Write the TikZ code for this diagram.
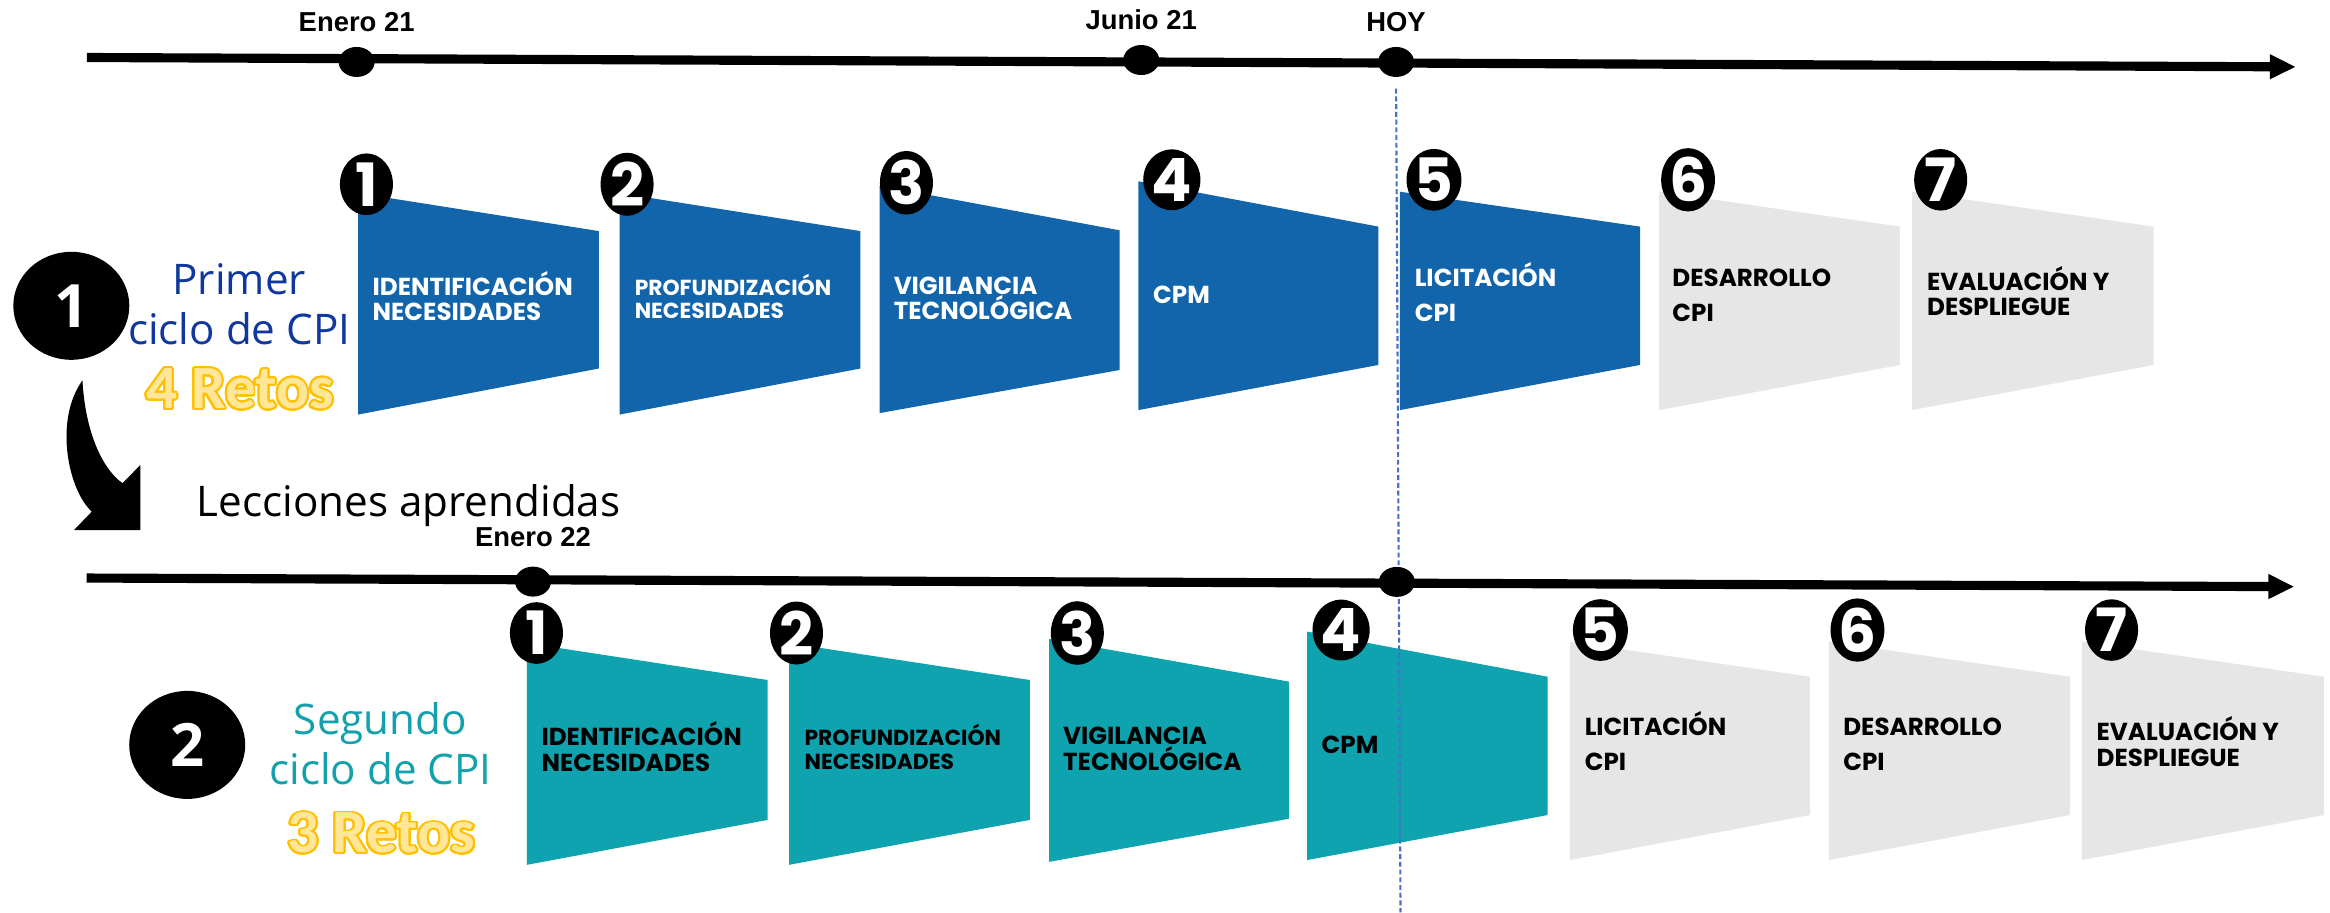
\documentclass[tikz,border=0pt]{standalone}
\usepackage{fontspec}
\usepackage{xcolor}
\usepackage[copies]{contour}
\usetikzlibrary{positioning, shapes.geometric, arrows.meta}

\setmainfont{Open Sans}
\newfontfamily\stagefont{Poppins}
\newfontfamily\datefont{Liberation Sans}
\newfontfamily\retofont{Carlito}

\definecolor{stageblue}{HTML}{1265AA}
\definecolor{stageteal}{HTML}{0FA3B0}
\definecolor{stagegray}{HTML}{E7E6E6}
\definecolor{cycleblue}{HTML}{10379E}
\definecolor{cycleteal}{HTML}{14A0AC}
\definecolor{hoyblue}{HTML}{4472C4}
\definecolor{retofill}{HTML}{FFE699}
\definecolor{retoedge}{HTML}{FFC000}

\contourlength{0.55pt}
\contournumber{24}

\begin{document}
\begin{tikzpicture}[x=0.1486mm, y=-0.1486mm, node distance=1.4mm,
  timeline/.style={line width=2.6pt, -{Triangle[length=7.4pt, width=6.6pt]}},
  daydot/.style={ellipse, fill=black, inner sep=0pt, minimum width=3.6mm, minimum height=3mm},
  datelabel/.style={inner sep=0pt, font=\datefont\bfseries\fontsize{7.8}{9}\selectfont},
  badge/.style={ellipse, fill=black, text=white, inner sep=0pt, minimum width=5.3mm, minimum height=5.7mm, font=\stagefont\bfseries\fontsize{17}{17}\selectfont},
  cyclebadge/.style={ellipse, fill=black, text=white, inner sep=0pt, minimum width=11.6mm, minimum height=10.8mm, font=\bfseries\fontsize{17}{17}\selectfont},
  stagetext/.style={anchor=base west, inner sep=0pt, align=left, font=\stagefont\bfseries\fontsize{7}{7.3}\selectfont},
  smalltext/.style={font=\stagefont\bfseries\fontsize{6.2}{6.6}\selectfont},
  widetext/.style={font=\stagefont\bfseries\fontsize{7}{10.1}\selectfont},
  cycletext/.style={anchor=base, inner sep=0pt, align=center, font=\fontsize{12}{14.2}\selectfont},
  retos/.style={anchor=base, inner sep=0pt, text=retofill, font=\retofont\bfseries\fontsize{17.5}{18}\selectfont},
  hoyline/.style={hoyblue, line width=0.6pt, dash pattern=on 1.4pt off 0.8pt}]
\useasboundingbox (0,0) rectangle (1568,614);

\fill[stageblue] (241,130) -- (403,155.5) -- (403,248) -- (241,279) -- cycle;
\fill[stageblue] (417,130) -- (579,155.5) -- (579,248) -- (417,279) -- cycle;
\fill[stageblue] (592,125) -- (753.5,155) -- (753.5,249) -- (592,278) -- cycle;
\fill[stageblue] (766,122) -- (927.6,152.5) -- (927.6,245.6) -- (766,276) -- cycle;
\fill[stageblue] (942,129) -- (1103.7,152.5) -- (1103.7,245.6) -- (942,276) -- cycle;
\fill[stagegray] (1116.6,129) -- (1278.6,152.5) -- (1278.6,245.6) -- (1116.6,276) -- cycle;
\fill[stagegray] (1286.7,129) -- (1449.3,152.5) -- (1449.3,245.6) -- (1286.7,276) -- cycle;

\fill[stageteal] (354.6,432.8) -- (516.5,457.6) -- (516.5,551.8) -- (354.6,582) -- cycle;
\fill[stageteal] (531,432.8) -- (693,457.6) -- (693,551.8) -- (531,582) -- cycle;
\fill[stageteal] (706,430) -- (867.4,458.7) -- (867.4,551) -- (706,580) -- cycle;
\fill[stageteal] (879.6,425) -- (1041.5,455.4) -- (1041.5,548.5) -- (879.6,578.8) -- cycle;
\fill[stagegray] (1056.6,431.8) -- (1218,455.4) -- (1218,548.5) -- (1056.6,578.8) -- cycle;
\fill[stagegray] (1230.7,431.8) -- (1393,455.4) -- (1393,548.5) -- (1230.7,578.8) -- cycle;
\fill[stagegray] (1401,431.8) -- (1564,455.4) -- (1564,548.5) -- (1401,578.8) -- cycle;

\node[badge] (c1n1) at (246.6,124) {1};
\node[badge] (c1n2) at (422,124) {2};
\node[badge] (c1n3) at (610,123) {3};
\node[badge] (c1n4) at (788.6,121) {4};
\node[badge] (c1n5) at (965,121) {5};
\node[badge] (c1n6) at (1136,121) {6};
\node[badge] (c1n7) at (1306,121) {7};
\node[badge] (c2n1) at (361,426) {1};
\node[badge] (c2n2) at (536,426) {2};
\node[badge] (c2n3) at (725,426) {3};
\node[badge] (c2n4) at (902.5,424) {4};
\node[badge] (c2n5) at (1077,424) {5};
\node[badge] (c2n6) at (1250,424) {6};
\node[badge] (c2n7) at (1421,424) {7};

\node[stagetext, text=white] (c1l1) at (250.3,215.9) {IDENTIFICACIÓN\\NECESIDADES};
\node[stagetext, smalltext, text=white] (c1l2) at (426.7,214.3) {PROFUNDIZACIÓN\\NECESIDADES};
\node[stagetext, text=white] (c1l3) at (601,215.3) {VIGILANCIA\\TECNOLÓGICA};
\node[stagetext, text=white] (c1l4) at (775.6,204.3) {CPM};
\node[stagetext, widetext, text=white] (c1l5) at (951.6,216.4) {LICITACIÓN\\CPI};
\node[stagetext, widetext] (c1l6) at (1125,216.4) {DESARROLLO\\CPI};
\node[stagetext] (c1l7) at (1296.4,212.6) {EVALUACIÓN Y\\DESPLIEGUE};
\node[stagetext] (c2l1) at (364,518.9) {IDENTIFICACIÓN\\NECESIDADES};
\node[stagetext, smalltext] (c2l2) at (541,517.6) {PROFUNDIZACIÓN\\NECESIDADES};
\node[stagetext] (c2l3) at (715,518.3) {VIGILANCIA\\TECNOLÓGICA};
\node[stagetext] (c2l4) at (889,506.8) {CPM};
\node[stagetext, widetext] (c2l5) at (1066,518.7) {LICITACIÓN\\CPI};
\node[stagetext, widetext] (c2l6) at (1240,518.7) {DESARROLLO\\CPI};
\node[stagetext] (c2l7) at (1410.5,515.5) {EVALUACIÓN Y\\DESPLIEGUE};

\coordinate (hoyend) at (942.5,614);
\coordinate (top0) at (58.5,38.7);
\coordinate (top1) at (1545,45);
\coordinate (bot0) at (58.3,389);
\coordinate (bot1) at (1544,394.8);
\draw[timeline] (top0) -- (top1);
\draw[timeline] (bot0) -- (bot1);

\node[daydot] (ene21) at (240,41.7) {};
\node[daydot] (jun21) at (768,40.4) {};
\node[daydot] (hoy1) at (939.5,41.7) {};
\node[daydot] (ene22) at (358.7,391.4) {};
\draw[hoyline, shorten <=1.1mm] (hoy1.south) -- (hoyend);
\node[daydot] (hoy2) at (940,391.6) {};

\node[datelabel, above=of ene21] (ene21lbl) {Enero 21};
\node[datelabel, above=of jun21] (jun21lbl) {Junio 21};
\node[datelabel, above=of hoy1] (hoylbl) {HOY};
\node[datelabel, above=1.85mm of ene22] (ene22lbl) {Enero 22};

\node[cyclebadge] (cyc1) at (48,205.8) {1};
\node[cyclebadge] (cyc2) at (126,501.3) {2};
\node[cycletext, text=cycleblue] (cyc1lbl) at (161,232.1) {Primer\\ciclo de CPI};
\node[cycletext, text=cycleteal] (cyc2lbl) at (256,528.2) {Segundo\\ciclo de CPI};
\node[retos] (retos1) at (161.5,275) {\contour{retoedge}{4 Retos}};
\node[retos] (retos2) at (256.6,574) {\contour{retoedge}{3 Retos}};

\fill (55.5,256) .. controls (57,285) and (66,313) .. (82.4,325.2) -- (94.4,313) -- (94.4,356.7)
  -- (49.8,356.7) -- (61.8,344.3) .. controls (46,330) and (36,283) .. (55.5,256) -- cycle;
\node[anchor=base west, inner sep=0pt, font=\fontsize{12}{14}\selectfont] (lessons) at (132,347.7) {Lecciones aprendidas};
\end{tikzpicture}
\end{document}
